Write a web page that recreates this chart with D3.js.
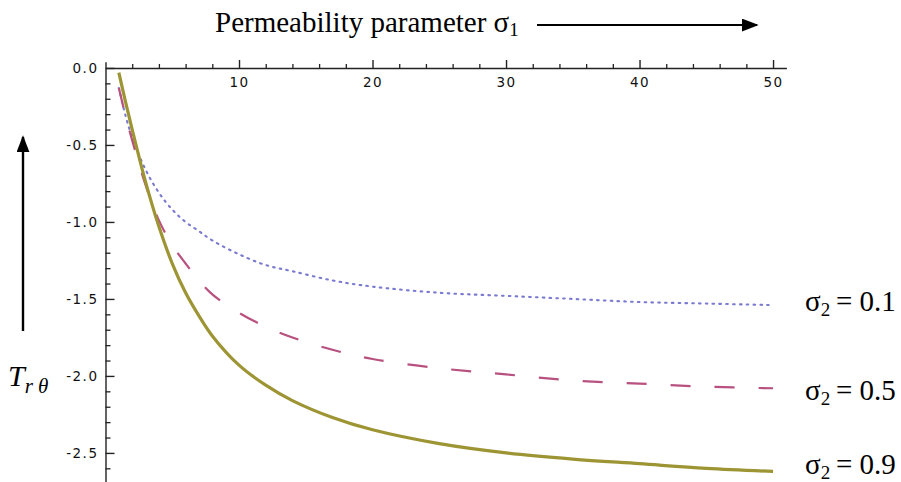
<!DOCTYPE html>
<html>
<head>
<meta charset="utf-8">
<script src="https://cdn.jsdelivr.net/npm/d3@7"></script>
<style>
  body { margin: 0; background: #fff; }
  .tick text { font-family: "DejaVu Sans", sans-serif; font-size: 13.5px; letter-spacing: 1.5px; fill: #111; }
  .serif { font-family: "Liberation Serif", "Times New Roman", serif; fill: #000; }
</style>
</head>
<body>
<div class="chart"></div>
<script>
const w = 901;
const h = 482;

// sampled sigma1 values
const sigma1 = [1, 1.5, 2, 3, 4, 5, 6, 7, 8, 10, 12, 14, 17, 20, 25, 30, 35, 40, 45, 50];
// T_r theta for each sigma2
const s01 = [-0.13, -0.31, -0.45, -0.66, -0.81, -0.92, -1.0, -1.06, -1.12, -1.21, -1.28, -1.32, -1.38, -1.42, -1.46, -1.48, -1.5, -1.52, -1.53, -1.54];
const s05 = [-0.13, -0.31, -0.47, -0.76, -0.99, -1.15, -1.27, -1.38, -1.47, -1.59, -1.68, -1.75, -1.83, -1.89, -1.95, -1.99, -2.03, -2.05, -2.07, -2.08];
const s09 = [-0.03, -0.22, -0.4, -0.74, -1.03, -1.27, -1.46, -1.61, -1.74, -1.93, -2.06, -2.16, -2.27, -2.35, -2.44, -2.5, -2.54, -2.57, -2.6, -2.62];

const xTicks = [10, 20, 30, 40, 50];
const yTicks = [0, -0.5, -1, -1.5, -2, -2.5];
const yTickLabels = ['0.0', '-0.5', '-1.0', '-1.5', '-2.0', '-2.5'];
const seriesLabels = ['0.1', '0.5', '0.9'];

const svg = d3.select('.chart').append('svg').attr('width', w).attr('height', h);

svg.append('defs').append('marker')
  .attr('id', 'arrow')
  .attr('viewBox', '0 0 10 10')
  .attr('refX', 9).attr('refY', 5)
  .attr('markerWidth', 17).attr('markerHeight', 13)
  .attr('markerUnits', 'userSpaceOnUse')
  .attr('orient', 'auto')
  .attr('preserveAspectRatio', 'none')
  .append('path').attr('d', 'M0,0 L10,5 L0,10 Z').attr('fill', '#000');

// scales
const xScale = d3.scaleLinear().domain([0, 51]).range([105.5, 786.4]);
const yScale = d3.scaleLinear().domain([0.04, -2.72]).range([61.8, 486.8]);

// x axis: ticks above, labels below
const xMinor = d3.range(2, 51, 2).filter((d) => d % 10 !== 0);
svg.append('g')
  .attr('transform', `translate(0,${yScale(0)})`)
  .call(d3.axisBottom(xScale).tickValues(xMinor).tickSizeInner(-4).tickSizeOuter(0).tickFormat(''))
  .call((g) => g.select('.domain').remove())
  .call((g) => g.selectAll('line').attr('stroke', '#222').attr('stroke-width', 1.3));
svg.append('g')
  .attr('transform', `translate(0,${yScale(0)})`)
  .call(d3.axisBottom(xScale).tickValues(xTicks).tickSizeInner(-8).tickSizeOuter(0).tickPadding(9))
  .call((g) => g.selectAll('line, path').attr('stroke', '#222').attr('stroke-width', 1.4));

// y axis: ticks to the right, labels left
const yMinor = d3.range(-26, 1).map((d) => d / 10).filter((d) => Math.abs(d * 2 - Math.round(d * 2)) > 1e-6);
svg.append('g')
  .attr('transform', `translate(${xScale(0)},0)`)
  .call(d3.axisLeft(yScale).tickValues(yMinor).tickSizeInner(-5).tickSizeOuter(0).tickFormat(''))
  .call((g) => g.select('.domain').remove())
  .call((g) => g.selectAll('line').attr('stroke', '#222').attr('stroke-width', 1.3));
svg.append('g')
  .attr('transform', `translate(${xScale(0)},0)`)
  .call(d3.axisLeft(yScale).tickValues(yTicks).tickSizeInner(-9).tickSizeOuter(0).tickPadding(7)
    .tickFormat((d, i) => yTickLabels[i]))
  .call((g) => g.selectAll('line, path').attr('stroke', '#222').attr('stroke-width', 1.4));

// curves
const line = d3.line().curve(d3.curveCatmullRom.alpha(0.5))
  .x((d) => xScale(d[0]))
  .y((d) => yScale(d[1]));

const series = [
  { v: s01, color: '#7a7ad0', width: 2.1, dash: '1.6,5.2', cap: 'round' },
  { v: s05, color: '#b8517f', width: 2.2, dash: '20,24', cap: 'butt' },
  { v: s09, color: '#9d9434', width: 3.2, dash: null, cap: 'butt' }
];

svg.append('g').selectAll('path')
  .data(series)
  .enter()
  .append('path')
  .attr('fill', 'none')
  .attr('stroke', (d) => d.color)
  .attr('stroke-width', (d) => d.width)
  .attr('stroke-dasharray', (d) => d.dash)
  .attr('stroke-linecap', (d) => d.cap)
  .attr('d', (d) => line(sigma1.map((x, i) => [x, d.v[i]])));

// title with arrow
const title = svg.append('text').attr('class', 'serif')
  .attr('x', 215).attr('y', 32).attr('font-size', 29);
title.append('tspan').text('Permeability parameter σ');
title.append('tspan').attr('font-size', 19).attr('dy', 4).text('1');

svg.append('line')
  .attr('x1', 537).attr('y1', 25).attr('x2', 757).attr('y2', 25)
  .attr('stroke', '#000').attr('stroke-width', 2.2)
  .attr('marker-end', 'url(#arrow)');

// y label with arrow
svg.append('line')
  .attr('x1', 23).attr('y1', 331).attr('x2', 23).attr('y2', 137)
  .attr('stroke', '#000').attr('stroke-width', 2.4)
  .attr('marker-end', 'url(#arrow)');

const yl = svg.append('text').attr('class', 'serif')
  .attr('x', 8).attr('y', 386).attr('font-style', 'italic').attr('font-size', 30);
yl.append('tspan').text('T');
yl.append('tspan').attr('font-size', 21).attr('dy', 7).text('r θ');

// series labels
const labelY = [311, 400, 474];
seriesLabels.forEach((s, i) => {
  const t = svg.append('text').attr('class', 'serif')
    .attr('x', 805).attr('y', labelY[i]).attr('font-size', 29);
  t.append('tspan').text('σ');
  t.append('tspan').attr('font-size', 19).attr('dy', 5).text('2');
  t.append('tspan').attr('dy', -5).text('\u2009= ' + s);
});
</script>
</body>
</html>
